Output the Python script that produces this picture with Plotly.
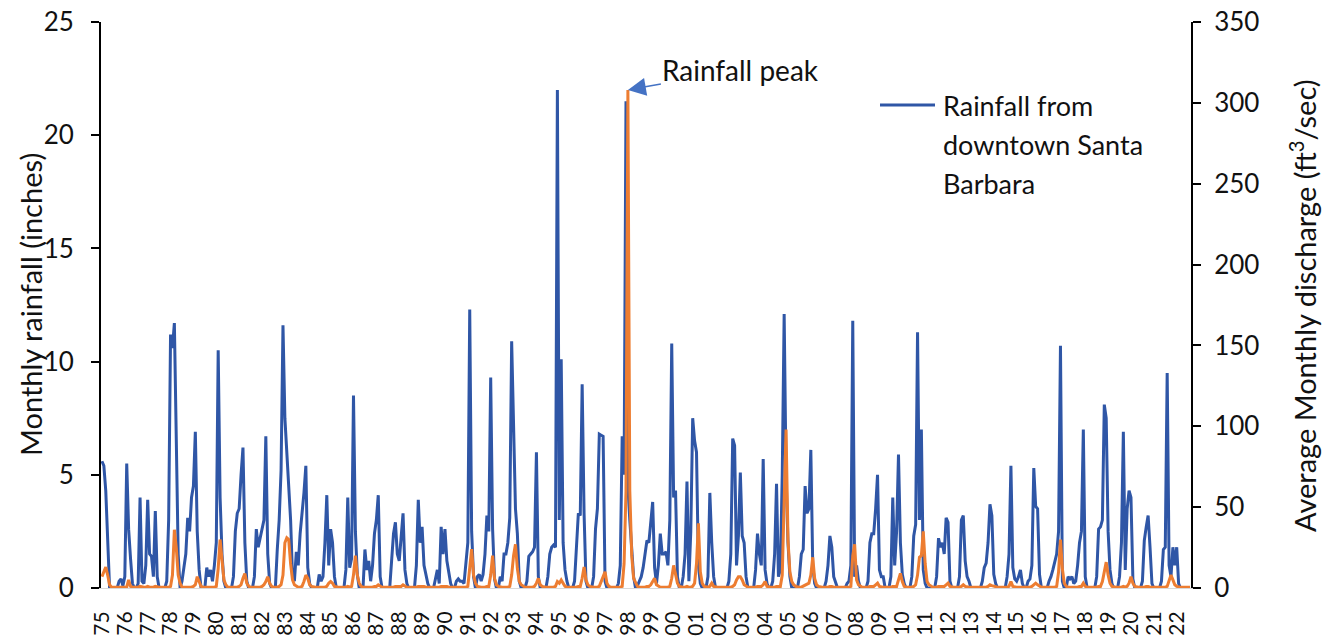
import plotly.graph_objects as go

# Monthly rainfall (inches), downtown Santa Barbara; one row of 12 months per year
rain_1975_1984 = [
    5.6, 5.4, 4.3, 1.7, 0, 0, 0, 0, 0, 0.3, 0.4, 0.1,
    0.5, 5.5, 2.6, 1.3, 0.2, 0, 0, 0.2, 4.0, 0.3, 0.2, 1.0,
    3.9, 1.5, 1.4, 0.5, 3.4, 0.5, 0, 0, 0, 0, 0.3, 3.0,
    11.2, 10.6, 11.7, 6.0, 1.5, 0, 0.3, 0.9, 1.5, 3.1, 2.5, 4.0,
    4.5, 6.9, 2.5, 0.8, 0, 0, 0, 0.9, 0.5, 0.8, 0.3, 1.0,
    2.0, 10.5, 4.0, 1.5, 0.3, 0, 0, 0, 0, 0.5, 2.5, 3.3,
    3.5, 5.0, 6.2, 2.0, 0.3, 0, 0, 0, 0.5, 2.6, 1.8, 2.2,
    2.7, 3.0, 6.7, 1.5, 0.2, 0, 0, 0, 1.7, 3.0, 5.2, 11.6,
    7.5, 6.0, 5.0, 3.0, 0.5, 0.3, 1.6, 1.0, 2.4, 3.2, 4.2, 5.4,
    0.9, 0.2, 0, 0, 0, 0, 0.6, 0.3, 0.5, 2.0, 4.1, 1.0,
]
rain_1985_1994 = [
    2.6, 2.0, 0.5, 0, 0, 0, 0, 0, 0.8, 4.0, 0.9, 1.3,
    8.5, 2.5, 0.6, 0, 0, 0, 1.7, 0.8, 1.2, 0.3, 1.0, 2.4,
    3.0, 4.1, 0.5, 0, 0, 0, 0, 0, 1.2, 2.4, 2.9, 1.5,
    1.2, 2.5, 3.3, 0.8, 0.2, 0, 0, 0, 0, 1.0, 3.9, 2.0,
    2.7, 1.0, 0.6, 0.2, 0, 0, 0, 0.4, 0.8, 0.2, 2.7, 1.5,
    2.6, 1.2, 0.6, 0.2, 0, 0, 0.3, 0.4, 0.3, 0.3, 0.2, 1.0,
    2.0, 12.3, 2.5, 0.5, 0, 0.5, 0.6, 0.3, 0.6, 1.5, 3.2, 2.5,
    9.3, 2.6, 0.4, 0, 0, 0.5, 0.3, 1.5, 1.5, 2.0, 3.1, 10.9,
    6.4, 3.5, 2.4, 0.3, 0, 0, 0, 0.3, 1.4, 1.5, 1.6, 1.8,
    6.0, 0.5, 0, 0, 0, 0, 0.5, 1.5, 1.8, 1.9, 1.8, 22.0,
]
rain_1995_2004 = [
    3.0, 10.1, 2.0, 0.8, 0.3, 0, 0, 0, 0.3, 2.0, 3.3, 3.2,
    9.0, 3.3, 0.3, 0, 0, 0, 0.5, 2.6, 3.5, 6.8, 6.75, 6.7,
    0.3, 0, 0, 0, 0, 0, 0, 0.2, 1.0, 6.7, 5.0, 21.5,
    4.5, 3.0, 1.5, 0.5, 0, 0.1, 0.3, 0.5, 0.9, 1.5, 2.1, 2.0,
    3.0, 3.8, 0.9, 0.2, 1.0, 2.4, 1.5, 1.5, 1.6, 1.0, 3.0, 10.8,
    4.0, 4.3, 0.5, 0, 0, 0.5, 1.5, 4.7, 0.3, 2.5, 7.5, 6.5,
    6.0, 1.0, 0.2, 0, 0, 0, 0.5, 4.2, 2.0, 0.5, 0, 0,
    0, 0, 0, 0, 0, 0.3, 1.5, 6.6, 6.3, 1.0, 2.3, 5.1,
    2.3, 2.0, 0.5, 0, 0, 0, 0, 0.8, 2.4, 1.5, 1.0, 5.7,
    0.8, 0.2, 0, 0, 0.3, 1.5, 4.6, 0.5, 0.8, 5.0, 12.1, 5.0,
]
rain_2005_2014 = [
    2.0, 0.5, 0, 0, 0, 0, 0.5, 1.5, 1.7, 4.5, 3.3, 3.5,
    6.1, 1.0, 0.2, 0, 0, 0, 0, 0, 0.3, 1.0, 2.3, 1.8,
    0.5, 0.2, 0, 0, 0, 0, 0, 0.2, 0.3, 1.0, 11.8, 0.5,
    1.0, 0.3, 0, 0, 0, 0, 0.3, 2.0, 2.4, 2.4, 3.5, 5.0,
    0.8, 0.5, 0.5, 0, 0, 0, 0.5, 4.0, 1.0, 2.5, 5.9, 2.0,
    0.6, 0.2, 0, 0, 0, 0.5, 2.3, 2.8, 11.3, 3.0, 7.0, 0.8,
    0.2, 0, 0, 0, 0, 0, 0.5, 2.2, 1.8, 2.0, 1.5, 3.1,
    2.9, 0.3, 0, 0, 0, 0, 0.5, 3.0, 3.2, 1.2, 0.5, 0.3,
    0, 0, 0, 0, 0, 0, 0.3, 0.9, 1.1, 2.0, 3.7, 3.2,
    0.6, 0.2, 0, 0, 0, 0, 0, 0.5, 1.5, 5.4, 0.9, 0.4,
]
rain_2015_2022 = [
    0.3, 0.5, 0.8, 0.2, 0, 0, 0.3, 0.4, 1.0, 5.3, 3.6, 3.5,
    0.6, 0, 0, 0, 0, 0.3, 0.5, 0.8, 1.1, 1.5, 2.5, 10.7,
    0.3, 0, 0, 0.5, 0.4, 0.5, 0.2, 0.3, 1.0, 2.0, 2.5, 7.0,
    0.5, 0, 0, 0, 0, 0, 0.5, 2.6, 2.7, 3.0, 8.1, 7.5,
    2.5, 0.8, 0.2, 0, 0, 0, 0.5, 2.0, 6.9, 0.8, 3.5, 4.3,
    4.0, 0.4, 0, 0, 0, 0, 0.3, 2.1, 2.7, 3.2, 1.8, 0.2,
    0, 0, 0, 0, 0.3, 1.7, 1.8, 9.5, 1.0, 0.5, 1.8, 1.0,
    1.8, 0.2, 0, 0, 0, 0, 0, 0,
]

# Average monthly discharge (ft3/sec)
flow_1975_1984 = [
    7, 10, 13, 8, 2, 0.5, 0.5, 0.5, 0.5, 0.5, 0.5, 0.5,
    0.5, 0.5, 5, 1, 0.5, 0.5, 0.5, 0.5, 1, 0.5, 0.5, 0.5,
    1, 0.5, 0.5, 0.5, 1, 0.5, 0.5, 0.5, 0.5, 0.5, 0.5, 0.5,
    1, 8, 36, 25, 8, 3, 0.5, 0.5, 0.5, 0.5, 0.5, 0.5,
    1, 2, 7, 4, 1, 0.5, 0.5, 0.5, 0.5, 0.5, 0.5, 0.5,
    1, 12, 30, 15, 5, 2, 0.5, 0.5, 0.5, 0.5, 0.5, 0.5,
    1, 2, 6, 9, 3, 1, 0.5, 0.5, 0.5, 0.5, 0.5, 0.5,
    1, 2, 4, 7, 3, 1, 0.5, 0.5, 0.5, 1, 2, 8,
    28, 31, 30, 15, 5, 2, 1, 0.5, 0.5, 1, 4, 8,
    6, 2, 1, 0.5, 0.5, 0.5, 0.5, 0.5, 0.5, 0.5, 1, 3,
]
flow_1985_1994 = [
    4, 3, 1, 0.5, 0.5, 0.5, 0.5, 0.5, 0.5, 1, 0.5, 1,
    8, 20, 8, 3, 1, 0.5, 0.5, 0.5, 0.5, 0.5, 0.5, 1,
    1, 2, 1, 0.5, 0.5, 0.5, 0.5, 0.5, 0.5, 0.5, 1, 1,
    1, 1, 2, 1, 0.5, 0.5, 0.5, 0.5, 0.5, 0.5, 1, 1,
    1, 1, 0.5, 0.5, 0.5, 0.5, 0.5, 0.5, 0.5, 0.5, 1, 1,
    1, 1, 0.5, 0.5, 0.5, 0.5, 0.5, 0.5, 0.5, 0.5, 0.5, 0.5,
    1, 15, 24, 8, 3, 1, 0.5, 0.5, 0.5, 0.5, 1, 1,
    8, 20, 6, 2, 1, 0.5, 0.5, 0.5, 0.5, 0.5, 1, 8,
    20, 27, 12, 4, 2, 1, 0.5, 0.5, 0.5, 0.5, 0.5, 1,
    3, 6, 2, 1, 0.5, 0.5, 0.5, 0.5, 0.5, 0.5, 1, 4,
]
flow_1995_2004 = [
    3, 5, 3, 1, 0.5, 0.5, 0.5, 0.5, 0.5, 0.5, 1, 1,
    6, 13, 5, 2, 1, 0.5, 0.5, 0.5, 0.5, 1, 4, 8,
    10, 3, 1, 0.5, 0.5, 0.5, 0.5, 0.5, 0.5, 1, 15, 60,
    308, 60, 20, 6, 3, 1, 0.5, 0.5, 0.5, 0.5, 1, 1,
    2, 4, 6, 2, 1, 0.5, 0.5, 0.5, 0.5, 0.5, 1, 6,
    14, 8, 3, 1, 0.5, 0.5, 0.5, 1, 0.5, 0.5, 1, 3,
    15, 40, 10, 3, 1, 0.5, 0.5, 1, 3, 1, 0.5, 0.5,
    0.5, 0.5, 0.5, 0.5, 0.5, 0.5, 0.5, 1, 2, 5, 7, 7,
    5, 2, 1, 0.5, 0.5, 0.5, 0.5, 0.5, 1, 1, 1, 2,
    4, 1, 0.5, 0.5, 0.5, 0.5, 1, 1, 1, 8, 60, 98,
]
flow_2005_2014 = [
    30, 10, 4, 2, 1, 0.5, 0.5, 0.5, 1, 2, 2, 3,
    8, 19, 6, 2, 1, 0.5, 0.5, 0.5, 0.5, 0.5, 1, 1,
    0.5, 0.5, 0.5, 0.5, 0.5, 0.5, 0.5, 0.5, 0.5, 1, 20, 27,
    5, 2, 1, 0.5, 0.5, 0.5, 0.5, 1, 1, 1, 2, 3,
    1, 0.5, 0.5, 0.5, 0.5, 0.5, 0.5, 1, 1, 1, 5, 9,
    4, 1, 0.5, 0.5, 0.5, 0.5, 1, 2, 8, 19, 20, 35,
    15, 4, 2, 1, 0.5, 0.5, 0.5, 1, 1, 1, 1, 2,
    3, 1, 0.5, 0.5, 0.5, 0.5, 0.5, 1, 2, 1, 0.5, 0.5,
    0.5, 0.5, 0.5, 0.5, 0.5, 0.5, 0.5, 0.5, 0.5, 1, 2, 1.5,
    1, 0.5, 0.5, 0.5, 0.5, 0.5, 0.5, 0.5, 1, 4, 1, 0.5,
]
flow_2015_2022 = [
    0.5, 0.5, 0.5, 0.5, 0.5, 0.5, 0.5, 0.5, 1, 2, 3, 2,
    1, 0.5, 0.5, 0.5, 0.5, 0.5, 0.5, 0.5, 0.5, 1, 10, 30,
    12, 3, 1, 0.5, 0.5, 0.5, 0.5, 0.5, 0.5, 1, 1, 3,
    1, 0.5, 0.5, 0.5, 0.5, 0.5, 0.5, 1, 1, 4, 10, 16,
    8, 3, 1, 0.5, 0.5, 0.5, 0.5, 0.5, 1, 0.5, 1, 3,
    7, 3, 1, 0.5, 0.5, 0.5, 0.5, 0.5, 1, 1, 0.5, 0.5,
    0.5, 0.5, 0.5, 0.5, 0.5, 0.5, 0.5, 1, 4, 8, 5, 2,
    1, 0.5, 0.5, 0.5, 0.5, 0.5, 0.5, 0.5,
]

year_labels = ["75", "76", "77", "78", "79", "80", "81", "82", "83", "84",
               "85", "86", "87", "88", "89", "90", "91", "92", "93", "94",
               "95", "96", "97", "98", "99", "00", "01", "02", "03", "04",
               "05", "06", "07", "08", "09", "10", "11", "12", "13", "14",
               "15", "16", "17", "18", "19", "20", "21", "22"]

rain = rain_1975_1984 + rain_1985_1994 + rain_1995_2004 + rain_2005_2014 + rain_2015_2022
flow = flow_1975_1984 + flow_1985_1994 + flow_1995_2004 + flow_2005_2014 + flow_2015_2022
months = list(range(len(rain)))

BLUE = "#2F56A6"
ORANGE = "#ED7D31"
FONT = "Lato"
TXT = "#111111"

fig = go.Figure()
fig.add_trace(go.Scatter(x=months, y=rain, mode="lines", name="Rainfall from downtown Santa Barbara",
                         line=dict(color=BLUE, width=3), yaxis="y", showlegend=False))
fig.add_trace(go.Scatter(x=months, y=flow, mode="lines", name="Average Monthly discharge",
                         line=dict(color=ORANGE, width=3), yaxis="y2", showlegend=False))

W, H = 1332, 640
L, R, T, B = 101, 141, 22, 52
pw, ph = W - L - R, H - T - B

def px(x):
    return (x - L) / pw

def py(y):
    return (H - B - y) / ph

fig.update_layout(
    width=W, height=H,
    margin=dict(l=L, r=R, t=T, b=B, pad=0, autoexpand=False),
    paper_bgcolor="white", plot_bgcolor="white",
    font=dict(family=FONT, color=TXT, size=24),
    xaxis=dict(range=[-0.5, len(rain) - 0.5], tickmode="array",
               tickvals=[12 * k for k in range(len(year_labels))], ticktext=year_labels,
               tickangle=-90, tickfont=dict(size=21, family=FONT, color=TXT),
               showgrid=False, zeroline=False, showline=True, linecolor="#d9d9d9", linewidth=1,
               ticks="", ticklabelstandoff=14, automargin=False),
    yaxis=dict(range=[0, 25], tickvals=[0, 5, 10, 15, 20, 25], showgrid=False, zeroline=False,
               showline=True, linecolor="black", linewidth=2, ticks="outside", ticklen=8,
               tickwidth=2, tickcolor="black", tickfont=dict(size=26, family=FONT, color=TXT),
               ticklabelstandoff=12, automargin=False),
    yaxis2=dict(range=[0, 350], tickvals=[0, 50, 100, 150, 200, 250, 300, 350], overlaying="y",
                side="right", showgrid=False, zeroline=False, showline=True, linecolor="black",
                linewidth=2, ticks="outside", ticklen=8, tickwidth=2, tickcolor="black",
                tickfont=dict(size=26, family=FONT, color=TXT), ticklabelstandoff=8,
                automargin=False),
)

annotations = [
    dict(text="Monthly rainfall (inches)", xref="paper", yref="paper", x=px(30), y=py(305),
         xanchor="center", yanchor="middle",
         textangle=-90, showarrow=False, font=dict(size=29, family=FONT, color=TXT)),
    dict(text="Average Monthly discharge (ft<sup>3</sup>/sec)", xref="paper", yref="paper",
         x=px(1303), y=py(306), xanchor="center", yanchor="middle", textangle=-90, showarrow=False,
         font=dict(size=29, family=FONT, color=TXT)),
    dict(text="Rainfall peak", xref="x", yref="y", x=276, y=22.0, ax=113, ay=-20,
         showarrow=True, arrowhead=2, arrowsize=2.4, arrowwidth=1.5, arrowcolor="#4472C4",
         font=dict(size=28, family=FONT, color=TXT)),
]
legend_lines = ["Rainfall from", "downtown Santa", "Barbara"]
legend_y = [105, 144, 183]
for t, yy in zip(legend_lines, legend_y):
    annotations.append(dict(text=t, xref="paper", yref="paper", x=px(941), y=py(yy),
                            xanchor="left", yanchor="middle", showarrow=False,
                            font=dict(size=27, family=FONT, color=TXT)))
fig.update_layout(annotations=annotations)
fig.add_shape(type="line", xref="paper", yref="paper", x0=px(880), x1=px(935),
              y0=py(105), y1=py(105), line=dict(color=BLUE, width=3))

fig.write_html("out.html")
